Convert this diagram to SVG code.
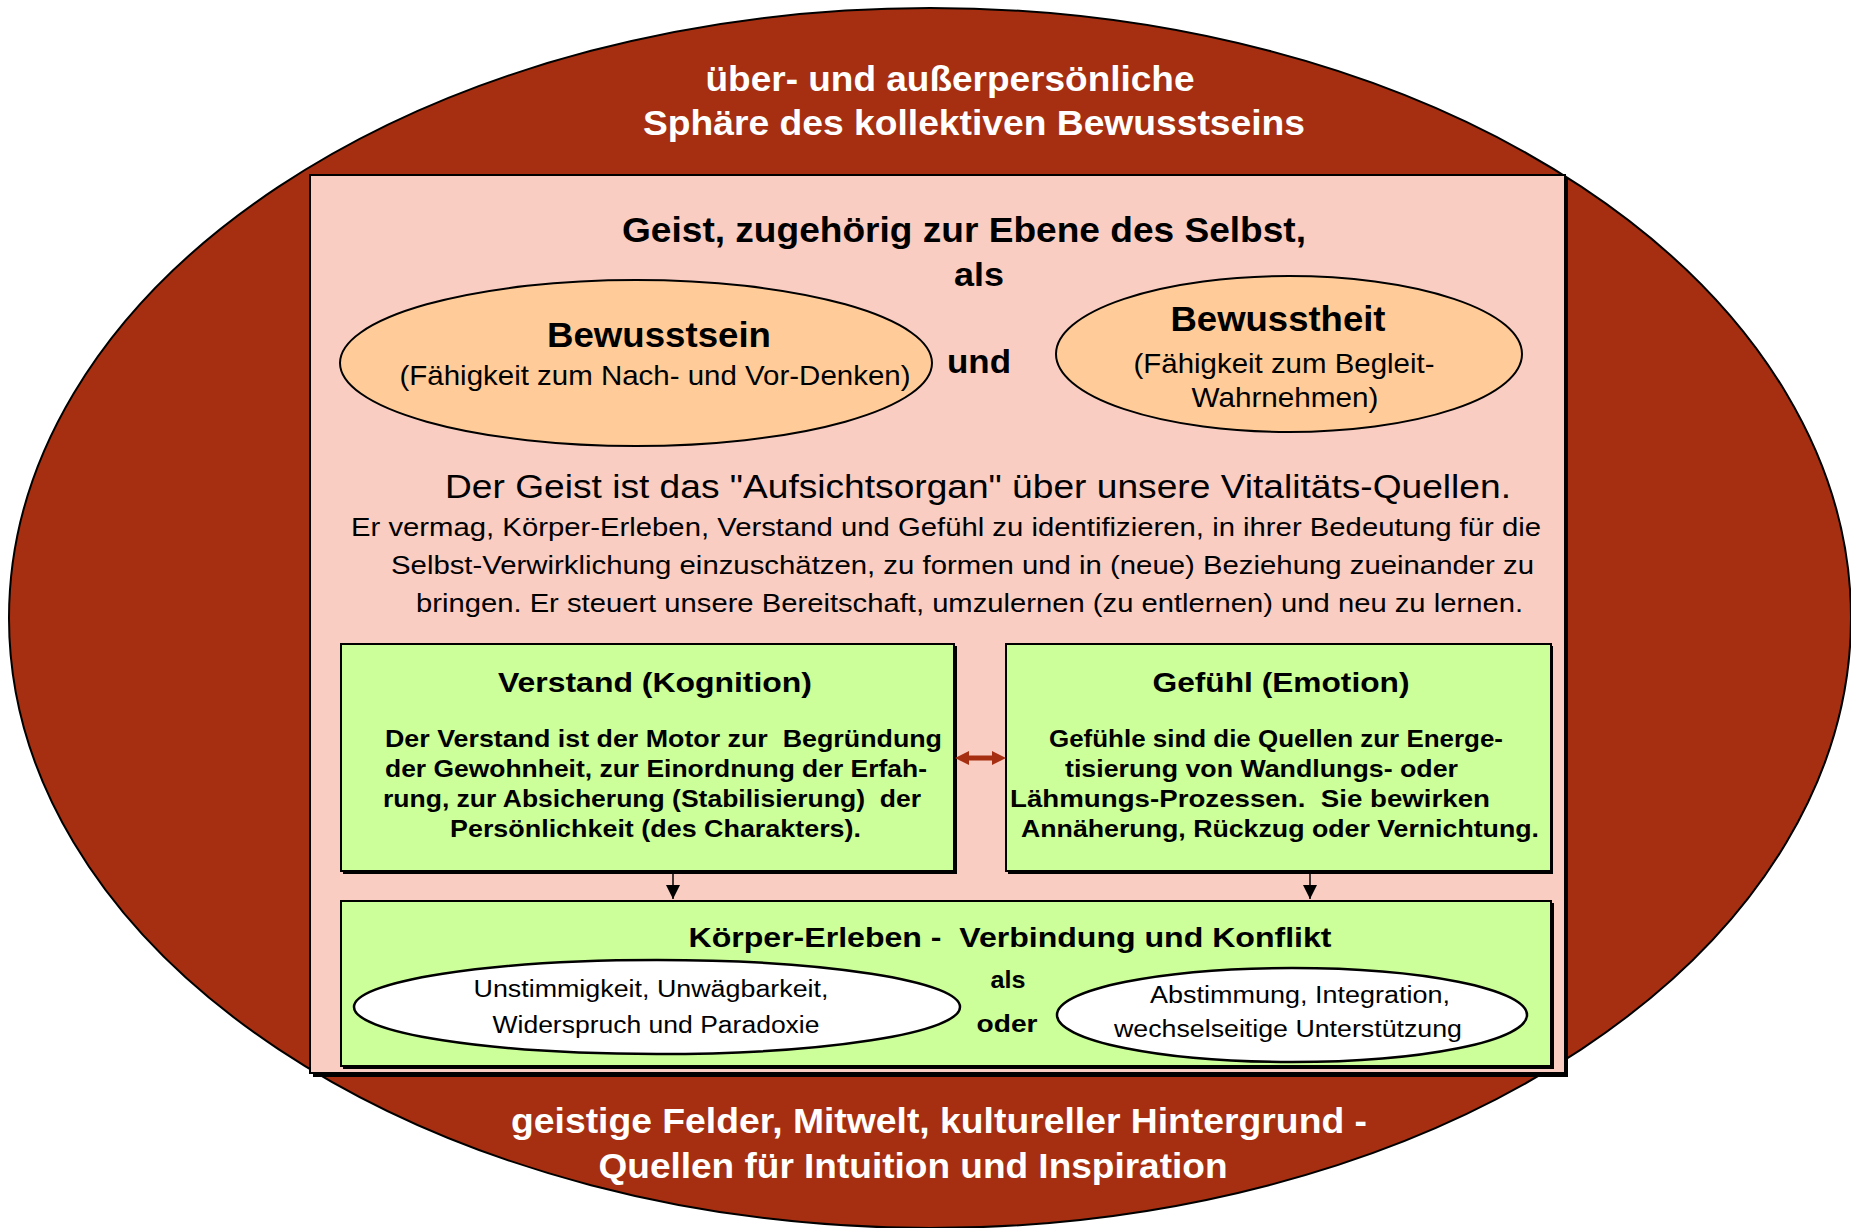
<svg xmlns="http://www.w3.org/2000/svg" width="1851" height="1228" viewBox="0 0 1851 1228">
  <style>
    text { font-family: "Liberation Sans", Arial, sans-serif; fill: #000; }
    .b { font-weight: bold; }
    .w { fill: #fff; font-weight: bold; font-size: 35px; }
    .box { stroke: #000; stroke-width: 2; }
    .shadow { fill: #000; }
    .conn { stroke: #000; stroke-width: 1.5; fill: none; }
  </style>
  <defs>
    <marker id="down" viewBox="0 0 14 14" refX="14" refY="7" markerWidth="14" markerHeight="14" markerUnits="userSpaceOnUse" orient="auto">
      <path d="M0,0 L14,7 L0,14 Z" fill="#000"/>
    </marker>
  </defs>

  <!-- outer sphere -->
  <g id="sphere">
    <ellipse cx="930" cy="618" rx="921" ry="610" fill="#A52F10" stroke="#000" stroke-width="2"/>
    <text class="w" x="950" y="91" text-anchor="middle" textLength="489" lengthAdjust="spacingAndGlyphs">über- und außerpersönliche</text>
    <text class="w" x="974" y="135" text-anchor="middle" textLength="662" lengthAdjust="spacingAndGlyphs">Sphäre des kollektiven Bewusstseins</text>
    <text class="w" x="939" y="1133" text-anchor="middle" textLength="856" lengthAdjust="spacingAndGlyphs">geistige Felder, Mitwelt, kultureller Hintergrund -</text>
    <text class="w" x="913" y="1178" text-anchor="middle" textLength="629" lengthAdjust="spacingAndGlyphs">Quellen für Intuition und Inspiration</text>
  </g>

  <!-- mind panel -->
  <g id="geist">
    <rect class="shadow" x="313" y="177" width="1255" height="900"/>
    <rect class="box" x="310" y="175" width="1255" height="898" fill="#F9CDC2"/>
    <text class="b" x="964" y="242" font-size="35" text-anchor="middle" textLength="684" lengthAdjust="spacingAndGlyphs">Geist, zugehörig zur Ebene des Selbst,</text>
    <text class="b" x="979" y="286" font-size="33" text-anchor="middle" textLength="50" lengthAdjust="spacingAndGlyphs">als</text>
    <text class="b" x="979" y="373" font-size="33" text-anchor="middle" textLength="64" lengthAdjust="spacingAndGlyphs">und</text>
    <text x="445" y="498" font-size="34" textLength="1066" lengthAdjust="spacingAndGlyphs">Der Geist ist das "Aufsichtsorgan" über unsere Vitalitäts-Quellen.</text>
    <text x="351" y="536" font-size="26" textLength="1190" lengthAdjust="spacingAndGlyphs">Er vermag, Körper-Erleben, Verstand und Gefühl zu identifizieren, in ihrer Bedeutung für die</text>
    <text x="391" y="574" font-size="26" textLength="1143" lengthAdjust="spacingAndGlyphs">Selbst-Verwirklichung einzuschätzen, zu formen und in (neue) Beziehung zueinander zu</text>
    <text x="416" y="612" font-size="26" textLength="1107" lengthAdjust="spacingAndGlyphs">bringen. Er steuert unsere Bereitschaft, umzulernen (zu entlernen) und neu zu lernen.</text>
  </g>

  <g id="bewusstsein">
    <ellipse cx="636" cy="363" rx="296" ry="83" fill="#FFCC99" stroke="#000" stroke-width="2"/>
    <text class="b" x="659" y="347" font-size="35" text-anchor="middle" textLength="224" lengthAdjust="spacingAndGlyphs">Bewusstsein</text>
    <text x="655" y="385" font-size="28" text-anchor="middle" textLength="511" lengthAdjust="spacingAndGlyphs">(Fähigkeit zum Nach- und Vor-Denken)</text>
  </g>

  <g id="bewusstheit">
    <ellipse cx="1289" cy="354" rx="233" ry="78" fill="#FFCC99" stroke="#000" stroke-width="2"/>
    <text class="b" x="1278" y="331" font-size="35" text-anchor="middle" textLength="215" lengthAdjust="spacingAndGlyphs">Bewusstheit</text>
    <text x="1284" y="373" font-size="28" text-anchor="middle" textLength="301" lengthAdjust="spacingAndGlyphs">(Fähigkeit zum Begleit-</text>
    <text x="1285" y="407" font-size="28" text-anchor="middle" textLength="187" lengthAdjust="spacingAndGlyphs">Wahrnehmen)</text>
  </g>

  <g id="verstand">
    <rect class="shadow" x="343" y="646" width="614" height="228"/>
    <rect class="box" x="341" y="644" width="613" height="227" fill="#CCFF99"/>
    <text class="b" x="655" y="692" font-size="28" text-anchor="middle" textLength="314" lengthAdjust="spacingAndGlyphs">Verstand (Kognition)</text>
    <text class="b" x="385" y="747" font-size="24" xml:space="preserve" textLength="557" lengthAdjust="spacingAndGlyphs">Der Verstand ist der Motor zur  Begründung</text>
    <text class="b" x="385" y="777" font-size="24" textLength="542" lengthAdjust="spacingAndGlyphs">der Gewohnheit, zur Einordnung der Erfah-</text>
    <text class="b" x="383" y="807" font-size="24" xml:space="preserve" textLength="538" lengthAdjust="spacingAndGlyphs">rung, zur Absicherung (Stabilisierung)  der</text>
    <text class="b" x="450" y="837" font-size="24" textLength="411" lengthAdjust="spacingAndGlyphs">Persönlichkeit (des Charakters).</text>
  </g>

  <g id="gefuehl">
    <rect class="shadow" x="1008" y="646" width="545" height="228"/>
    <rect class="box" x="1006" y="644" width="545" height="227" fill="#CCFF99"/>
    <text class="b" x="1281" y="692" font-size="28" text-anchor="middle" textLength="257" lengthAdjust="spacingAndGlyphs">Gefühl (Emotion)</text>
    <text class="b" x="1049" y="747" font-size="24" textLength="454" lengthAdjust="spacingAndGlyphs">Gefühle sind die Quellen zur Energe-</text>
    <text class="b" x="1065" y="777" font-size="24" textLength="393" lengthAdjust="spacingAndGlyphs">tisierung von Wandlungs- oder</text>
    <text class="b" x="1010" y="807" font-size="24" xml:space="preserve" textLength="480" lengthAdjust="spacingAndGlyphs">Lähmungs-Prozessen.  Sie bewirken</text>
    <text class="b" x="1021" y="837" font-size="24" textLength="518" lengthAdjust="spacingAndGlyphs">Annäherung, Rückzug oder Vernichtung.</text>
  </g>

  <g id="koerper">
    <rect class="shadow" x="343" y="903" width="1211" height="166"/>
    <rect class="box" x="341" y="901" width="1210" height="165" fill="#CCFF99"/>
    <text class="b" x="1010" y="947" font-size="28" text-anchor="middle" xml:space="preserve" textLength="643" lengthAdjust="spacingAndGlyphs">Körper-Erleben -  Verbindung und Konflikt</text>
    <text class="b" x="1008" y="988" font-size="24" text-anchor="middle" textLength="35" lengthAdjust="spacingAndGlyphs">als</text>
    <text class="b" x="1007" y="1032" font-size="24" text-anchor="middle" textLength="61" lengthAdjust="spacingAndGlyphs">oder</text>
  </g>

  <g id="konflikt">
    <ellipse cx="657" cy="1007" rx="303" ry="47" fill="#fff" stroke="#000" stroke-width="2.5"/>
    <text x="651" y="997" font-size="23" text-anchor="middle" textLength="355" lengthAdjust="spacingAndGlyphs">Unstimmigkeit, Unwägbarkeit,</text>
    <text x="656" y="1033" font-size="23" text-anchor="middle" textLength="327" lengthAdjust="spacingAndGlyphs">Widerspruch und Paradoxie</text>
  </g>

  <g id="verbindung">
    <ellipse cx="1292" cy="1015" rx="235" ry="47" fill="#fff" stroke="#000" stroke-width="2.5"/>
    <text x="1300" y="1003" font-size="23" text-anchor="middle" textLength="300" lengthAdjust="spacingAndGlyphs">Abstimmung, Integration,</text>
    <text x="1288" y="1037" font-size="23" text-anchor="middle" textLength="348" lengthAdjust="spacingAndGlyphs">wechselseitige Unterstützung</text>
  </g>

  <!-- connectors -->
  <g id="connectors">
    <path d="M955,758 L969,751 L969,755.5 L992,755.5 L992,751 L1006,758 L992,765 L992,760.5 L969,760.5 L969,765 Z" fill="#A52F10"/>
    <line class="conn" x1="673" y1="872" x2="673" y2="899" marker-end="url(#down)"/>
    <line class="conn" x1="1310" y1="872" x2="1310" y2="899" marker-end="url(#down)"/>
  </g>
</svg>
